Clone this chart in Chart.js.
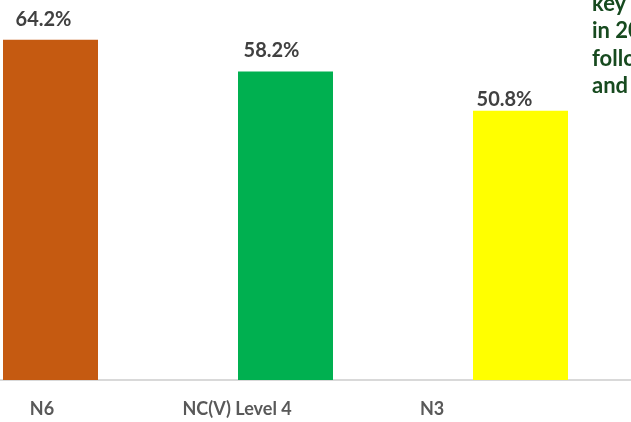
<!DOCTYPE html>
<html>
<head>
<meta charset="utf-8">
<script src="https://cdn.jsdelivr.net/npm/chart.js@4"></script>
<style>
    html, body { margin: 0; padding: 0; width: 631px; height: 422px; overflow: hidden; background: #fff; }
    #wrap { position: absolute; left: -67px; top: 0; width: 705px; height: 422px; }
    #note {
        position: absolute; left: 592px; top: -11px; white-space: nowrap;
        font: bold 22px Lato, sans-serif; line-height: 27.3px; color: #174a1f;
    }
</style>
</head>
<body>
<div id="wrap"><canvas id="chart" width="705" height="422"></canvas></div>
<div id="note">key<br>in 20<br>follow<br>and</div>

<script>
// ============================================================================
// Pass rate bar chart
// ============================================================================

const categories = ['N6', 'NC(V) Level 4', 'N3'];
const rates = [64.2, 58.2, 50.8];
const barColors = ['#c55a11', '#00b050', '#ffff00'];

// value label nudges (px), the labels in the source sit a bit left of the bars
const labelShiftX = [-7, -14, -16];
const labelGap = [14, 15, 5];

/**
 * Draw the "64.2%" style labels over the bars
 */
const valueLabels = {
    id: 'valueLabels',
    afterDatasetsDraw(chart) {
        const ctx = chart.ctx;
        const meta = chart.getDatasetMeta(0);
        ctx.save();
        ctx.font = 'bold 20px Lato, sans-serif';
        ctx.fillStyle = '#404040';
        ctx.textAlign = 'center';
        ctx.textBaseline = 'alphabetic';
        meta.data.forEach((bar, i) => {
            ctx.fillText(rates[i].toFixed(1) + '%', bar.x + labelShiftX[i], bar.y - labelGap[i]);
        });
        ctx.restore();
    }
};

new Chart(document.getElementById('chart'), {
    type: 'bar',
    data: {
        labels: categories,
        datasets: [{
            data: rates,
            backgroundColor: barColors,
            borderWidth: 0,
            categoryPercentage: 1,
            barPercentage: 95 / 235
        }]
    },
    options: {
        responsive: false,
        animation: false,
        devicePixelRatio: 1,
        layout: { padding: { top: 9, left: 0, right: 0, bottom: 0 } },
        plugins: {
            legend: { display: false },
            tooltip: { enabled: false }
        },
        scales: {
            x: {
                display: false,
                offset: true
            },
            // label axis: the category names are spaced tighter than the bars
            x2: {
                type: 'linear',
                position: 'bottom',
                offset: false,
                min: -0.559,
                max: 3.056,
                afterBuildTicks: (scale) => {
                    scale.ticks = categories.map((c, i) => ({ value: i }));
                },
                afterFit: (scale) => { scale.height = 42; },
                grid: { display: false, offset: false, drawTicks: false, tickLength: 0 },
                border: { display: true, color: '#d9d9d9', width: 2 },
                ticks: {
                    autoSkip: false,
                    maxRotation: 0,
                    padding: 18,
                    color: '#595959',
                    font: { family: 'Lato', size: 18, weight: 'bold' },
                    callback: (v) => categories[v]
                }
            },
            y: {
                display: false,
                min: 0,
                max: 70
            }
        }
    },
    plugins: [valueLabels]
});
</script>
</body>
</html>
